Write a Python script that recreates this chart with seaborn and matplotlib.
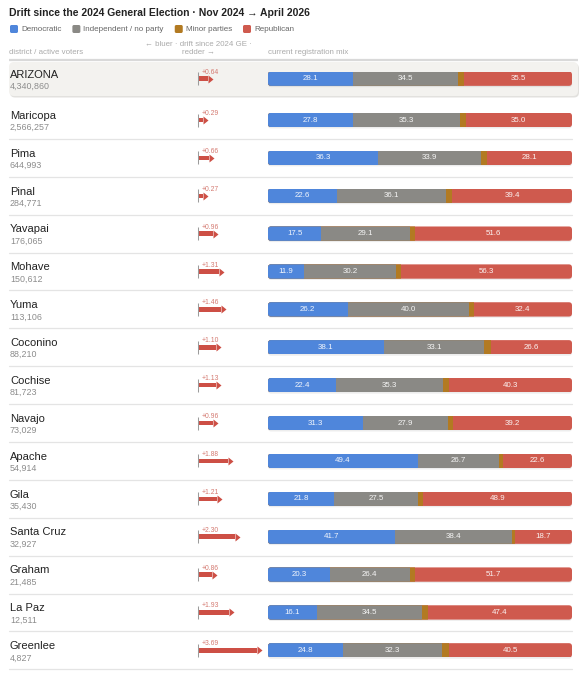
import numpy as np
import pandas as pd
import matplotlib
matplotlib.use("Agg")
import matplotlib.pyplot as plt
import seaborn as sns
from matplotlib.patches import FancyBboxPatch
from matplotlib import transforms

# ---------------- data ----------------
STATE = "ARIZONA"
state_voters = [4340860]
state_dem = [28.1]
state_ind = [34.5]
state_minor = [1.9]
state_rep = [35.5]
state_drift = [0.64]

districts = ["Maricopa", "Pima", "Pinal", "Yavapai", "Mohave", "Yuma", "Coconino",
             "Cochise", "Navajo", "Apache", "Gila", "Santa Cruz", "Graham", "La Paz", "Greenlee"]
voters = [2566257, 644993, 284771, 176065, 150612, 113106, 88210, 81723, 73029,
          54914, 35430, 32927, 21485, 12511, 4827]
dem = [27.8, 36.3, 22.6, 17.5, 11.9, 26.2, 38.1, 22.4, 31.3, 49.4, 21.8, 41.7, 20.3, 16.1, 24.8]
ind = [35.3, 33.9, 36.1, 29.1, 30.2, 40.0, 33.1, 35.3, 27.9, 26.7, 27.5, 38.4, 26.4, 34.5, 32.3]
minor = [1.9, 1.7, 1.9, 1.8, 1.6, 1.4, 2.2, 2.0, 1.6, 1.3, 1.8, 1.2, 1.6, 2.0, 2.4]
rep = [35.0, 28.1, 39.4, 51.6, 56.3, 32.4, 26.6, 40.3, 39.2, 22.6, 48.9, 18.7, 51.7, 47.4, 40.5]
drift = [0.29, 0.66, 0.27, 0.96, 1.31, 1.46, 1.10, 1.13, 0.96, 1.88, 1.21, 2.30, 0.86, 1.93, 3.69]

legend_labels = ["Democratic", "Independent / no party", "Minor parties", "Republican"]
TITLE = "Drift since the 2024 General Election \u00b7 Nov 2024 \u2192 April 2026"

# ---------------- style ----------------
BLUE = "#4f86db"
GRAY = "#8a8985"
MINOR = "#b27a22"
RED = "#cf5a4e"
ARROW = "#cd4f45"
ARROW_TXT = "#d47a71"
colors = [BLUE, GRAY, MINOR, RED]

sns.set_theme(style="white")
plt.rcParams["font.family"] = ["Liberation Sans", "DejaVu Sans"]

W, H = 579, 680
fig = plt.figure(figsize=(W / 100, H / 100), dpi=100)
fig.patch.set_facecolor("white")

PITCH = 37.88
BAR_L, BAR_R = 268, 572
ARR_L, ARR_R, ARR_ZERO, ARR_SCALE = 190, 266, 198.3, 15.8
BAR_H = 14.3 / PITCH
SHAFT_H = 4.5 / PITCH

# background axes in pixel coordinates
bg = fig.add_axes([0, 0, 1, 1], zorder=-5)
bg.set_xlim(0, W)
bg.set_ylim(H, 0)
bg.set_axis_off()

# title
bg.text(9, 13, TITLE, fontsize=7.5, fontweight="bold", color="#222222", va="center", ha="left")

# legend
renderer = fig.canvas.get_renderer()
x = 10
for lab, col in zip(legend_labels, colors):
    bg.add_patch(FancyBboxPatch((x, 25), 8, 8, boxstyle="round,pad=0,rounding_size=1.6",
                                fc=col, ec="none"))
    t = bg.text(x + 11, 29.3, lab, fontsize=5.8, color="#666666", va="center", ha="left")
    bb = t.get_window_extent(renderer=renderer)
    x = x + 11 + bb.width + 11

# column headers
HDR = "#aaaaaa"
bg.text(9, 53, "district / active voters", fontsize=5.7, color=HDR, va="center", ha="left")
bg.text(ARR_ZERO, 48, "\u2190 bluer \u00b7 drift since 2024 GE \u00b7\nredder \u2192", fontsize=5.7,
        color=HDR, va="center", ha="center", multialignment="center", linespacing=1.2)
bg.text(BAR_L, 53, "current registration mix", fontsize=5.7, color=HDR, va="center", ha="left")
bg.plot([9, 578], [59.6, 59.6], color="#d9d9d9", lw=1.6, solid_capstyle="butt")

# highlighted state row box with soft shadow
bg.add_patch(FancyBboxPatch((10, 63.5), 569, 34, boxstyle="round,pad=0,rounding_size=5",
                            fc="#e2e1de", ec="none"))
bg.add_patch(FancyBboxPatch((9, 62), 569, 34, boxstyle="round,pad=0,rounding_size=5",
                            fc="#f3f2ef", ec="none"))


def draw_block(names, counts, D, I, M, R, dr, center0, name_size, separators):
    n = len(names)
    y_top = center0 - PITCH / 2
    y_bot = center0 + PITCH * (n - 1) + PITCH / 2
    rect_y = 1 - y_bot / H
    rect_h = (y_bot - y_top) / H
    idx = np.arange(n)

    # ----- stacked registration bars -----
    ax = fig.add_axes([BAR_L / W, rect_y, (BAR_R - BAR_L) / W, rect_h])
    D = np.asarray(D); I = np.asarray(I); M = np.asarray(M); R = np.asarray(R)
    df = pd.DataFrame({"district": names, "c1": D, "c2": D + I, "c3": D + I + M,
                       "c4": D + I + M + R})
    for col, color in [("c4", RED), ("c3", MINOR), ("c2", GRAY), ("c1", BLUE)]:
        sns.barplot(data=df, x=col, y="district", order=names, color=color, saturation=1,
                    width=BAR_H, errorbar=None, linewidth=0, orient="h", ax=ax)
    ax.set_xlim(0, 100)
    ax.set_ylim(n - 0.5, -0.5)
    ax.set_axis_off()

    px_x = (BAR_R - BAR_L) / 100.0
    asp = (1 / PITCH) / (1 / px_x)
    rx = 3.2 / px_x
    clips = []
    for i in range(n):
        clips.append(FancyBboxPatch((0, i - BAR_H / 2), df["c4"][i], BAR_H,
                                    boxstyle=f"round,pad=0,rounding_size={rx}",
                                    mutation_aspect=asp, transform=ax.transData))
    for p in list(ax.patches):
        r = int(round(p.get_y() + p.get_height() / 2))
        p.set_clip_path(clips[r])
    for i in range(n):
        ax.add_patch(FancyBboxPatch((0, i - BAR_H / 2 + 1.3 / PITCH), df["c4"][i], BAR_H,
                                    boxstyle=f"round,pad=0,rounding_size={rx}",
                                    mutation_aspect=asp, fc="#000000", alpha=0.07,
                                    ec="none", zorder=0.5))
        for xc, v in [(D[i] / 2, D[i]), (D[i] + I[i] / 2, I[i]),
                      (D[i] + I[i] + M[i] + R[i] / 2, R[i])]:
            ax.text(xc, i, f"{v:.1f}", fontsize=5.7, color="white", alpha=0.92,
                    ha="center", va="center", zorder=5)

    # ----- drift arrows -----
    axa = fig.add_axes([ARR_L / W, rect_y, (ARR_R - ARR_L) / W, rect_h])
    dfa = pd.DataFrame({"district": names, "drift": dr})
    sns.barplot(data=dfa, x="drift", y="district", order=names, color=ARROW, saturation=1,
                width=SHAFT_H, errorbar=None, linewidth=0, orient="h", ax=axa)
    axa.plot(dr, idx, ls="none", marker=[(0, -0.8), (1, 0), (0, 0.8)], ms=10 * 0.72,
             color=ARROW, mew=0)
    axa.vlines(np.zeros(n), idx - 6.5 / PITCH, idx + 6.5 / PITCH, color="#9c9c9c", lw=0.75)
    for i in range(n):
        axa.annotate(f"+{dr[i]:.2f}", xy=(0, i), xytext=(3.5, 6.5), textcoords="offset pixels",
                     fontsize=4.9, color=ARROW_TXT, ha="left", va="center",
                     annotation_clip=False)
    axa.set_xlim(-(ARR_ZERO - ARR_L) / ARR_SCALE, (ARR_R - ARR_ZERO) / ARR_SCALE)
    axa.set_ylim(n - 0.5, -0.5)
    axa.set_axis_off()

    # ----- names, counts, separators -----
    trans = transforms.blended_transform_factory(fig.transFigure, ax.transData)
    for i in range(n):
        ax.annotate(names[i], xy=(10 / W, i), xycoords=trans, xytext=(0, 4.2),
                    textcoords="offset pixels", fontsize=name_size, color="#222222",
                    ha="left", va="center", annotation_clip=False)
        ax.annotate(f"{counts[i]:,}", xy=(10 / W, i), xycoords=trans, xytext=(0, -7.5),
                    textcoords="offset pixels", fontsize=6.4, color="#8c8c8c",
                    ha="left", va="center", annotation_clip=False)
        if separators:
            ax.plot([9 / W, 572 / W], [i + 0.5, i + 0.5], transform=trans, color="#e4e4e4",
                    lw=0.9, clip_on=False, zorder=0)


draw_block([STATE], state_voters, state_dem, state_ind, state_minor, state_rep, state_drift,
           78.7, 8.0, separators=False)
draw_block(districts, voters, dem, ind, minor, rep, drift, 120.0, 8.0, separators=True)

fig.savefig("out.png", dpi=100, facecolor="white")
